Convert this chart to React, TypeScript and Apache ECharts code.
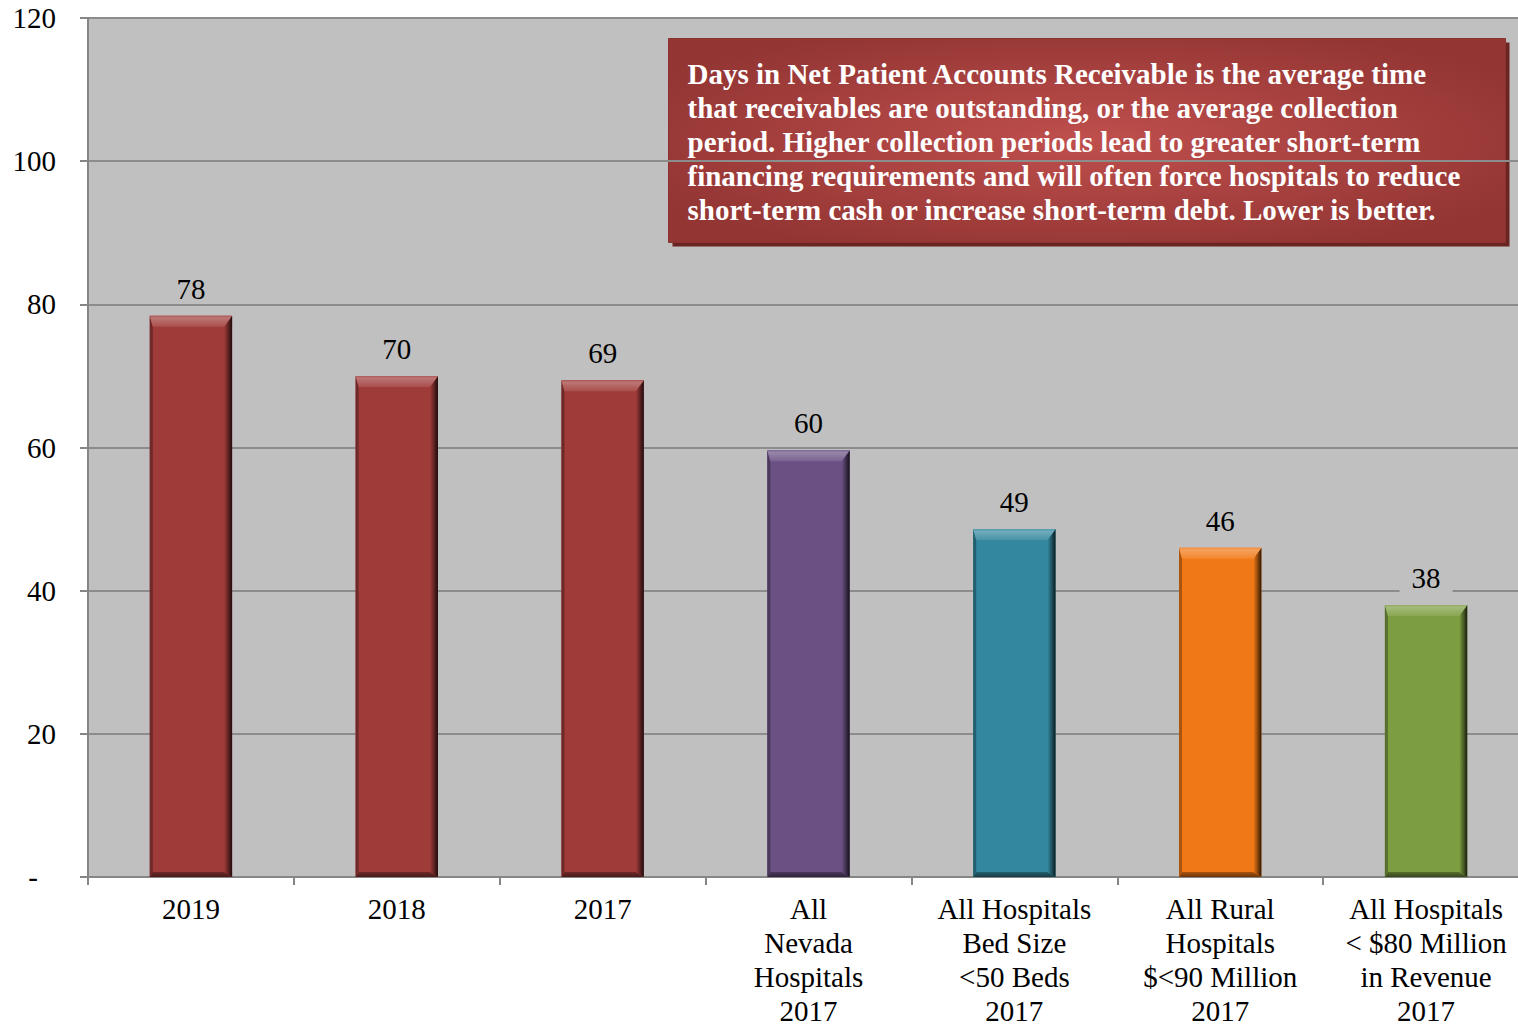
import React, { useEffect, useRef } from "react";
import * as echarts from "echarts";

const categories = [
  "2019",
  "2018",
  "2017",
  "All\nNevada\nHospitals\n2017",
  "All Hospitals\nBed Size\n<50 Beds\n2017",
  "All Rural\nHospitals\n$<90 Million\n2017",
  "All Hospitals\n< $80 Million\nin Revenue\n2017",
];
const values = [78.4, 70.0, 69.4, 59.6, 48.6, 46.0, 38.0];
const barColors = ["#9F3B39", "#9F3B39", "#9F3B39", "#6B5084", "#33879E", "#F17816", "#7C9D40"];
const yTicks = [0, 20, 40, 60, 80, 100, 120];
const noteLines = [
  "Days in Net Patient Accounts Receivable is the average time",
  "that receivables are outstanding, or the average collection",
  "period. Higher collection periods lead to greater short-term",
  "financing requirements and will often force hospitals to reduce",
  "short-term cash or increase short-term debt. Lower is better.",
];

const FONT = "Liberation Serif, Times New Roman, serif";

function mix(hex: string, target: string, t: number) {
  const p = (h: string) => [1, 3, 5].map((i) => parseInt(h.slice(i, i + 2), 16));
  const a = p(hex);
  const b = p(target);
  const c = a.map((v, i) => Math.round(v + (b[i] - v) * t));
  return "#" + c.map((v) => v.toString(16).padStart(2, "0")).join("");
}

export default function App() {
  const ref = useRef<HTMLDivElement>(null);
  useEffect(() => {
    document.body.style.margin = "0";
    const chart = echarts.init(ref.current!, undefined, { renderer: "svg" });
    const data = values.map((v, i) => [i, v]);
    const option: any = {
      animation: false,
      backgroundColor: "#FFFFFF",
      grid: {
        left: 88,
        width: 1441,
        top: 18,
        height: 859,
        containLabel: false,
        outerBoundsMode: "none",
        show: true,
        backgroundColor: "#C0C0C0",
        borderWidth: 0,
      },
      xAxis: {
        type: "category",
        data: categories,
        axisLine: { show: true, lineStyle: { color: "#868686", width: 2 } },
        axisTick: { show: true, interval: 0, length: 8, lineStyle: { color: "#868686", width: 2 } },
        axisLabel: {
          interval: 0,
          margin: 15,
          fontFamily: FONT,
          fontSize: 29,
          lineHeight: 34,
          color: "#000000",
        },
      },
      yAxis: {
        type: "value",
        min: yTicks[0],
        max: yTicks[yTicks.length - 1],
        interval: 20,
        axisLine: { show: true, lineStyle: { color: "#868686", width: 2 } },
        axisTick: { show: true, length: 8, lineStyle: { color: "#868686", width: 2 } },
        splitLine: { show: true, lineStyle: { color: "#8C8C8C", width: 2 } },
        axisLabel: {
          margin: 32,
          fontFamily: FONT,
          fontSize: 29,
          color: "#000000",
          formatter: (v: number) => (v === 0 ? "{z|-}" : String(v)),
          rich: { z: { fontFamily: FONT, fontSize: 29, color: "#000000", padding: [0, 18, 0, 0] } },
        },
      },
      series: [
        {
          type: "custom",
          data,
          encode: { x: 0, y: 1 },
          renderItem: (params: any, api: any) => {
            const idx = api.value(0);
            const v = api.value(1);
            const top = api.coord([idx, v]);
            const bot = api.coord([idx, 0]);
            const w = api.size([1, 0])[0] * 0.4;
            const x0 = top[0] - w / 2;
            const x1 = top[0] + w / 2;
            const y0 = top[1];
            const y1 = bot[1];
            const c = barColors[idx];
            const b = 11;
            const light = mix(c, "#FFFFFF", 0.3);
            const dark = mix(c, "#000000", 0.8);
            const midDark = mix(c, "#000000", 0.3);
            return {
              type: "group",
              children: [
                { type: "rect", shape: { x: x0, y: y0, width: x1 - x0, height: y1 - y0 }, style: { fill: c } },
                {
                  type: "polygon",
                  shape: { points: [[x0, y1], [x1, y1], [x1 - 8, y1 - 5], [x0 + 3, y1 - 5]] },
                  style: {
                    fill: new echarts.graphic.LinearGradient(0, 0, 0, 1, [
                      { offset: 0, color: midDark },
                      { offset: 1, color: mix(c, "#000000", 0.55) },
                    ]),
                  },
                },
                {
                  type: "polygon",
                  shape: { points: [[x0, y0], [x0 + 3, y0 + b], [x0 + 3, y1 - 5], [x0, y1]] },
                  style: { fill: midDark },
                },
                {
                  type: "polygon",
                  shape: { points: [[x1, y0], [x1, y1], [x1 - 8, y1 - 5], [x1 - 8, y0 + b]] },
                  style: {
                    fill: new echarts.graphic.LinearGradient(0, 0, 1, 0, [
                      { offset: 0, color: c },
                      { offset: 0.4, color: midDark },
                      { offset: 1, color: dark },
                    ]),
                  },
                },
                {
                  type: "polygon",
                  shape: { points: [[x0, y0], [x1, y0], [x1 - 8, y0 + b], [x0 + 3, y0 + b]] },
                  style: {
                    fill: new echarts.graphic.LinearGradient(0, 0, 0, 1, [
                      { offset: 0, color: mix(c, "#FFFFFF", 0.15) },
                      { offset: 0.2, color: light },
                      { offset: 1, color: mix(c, "#FFFFFF", 0.1) },
                    ]),
                  },
                },
                {
                  type: "text",
                  x: top[0],
                  y: y0 - 27,
                  style: {
                    text: String(Math.round(v)),
                    fontFamily: FONT,
                    fontSize: 29,
                    fill: "#000000",
                    align: "center",
                    verticalAlign: "middle",
                    backgroundColor: "#C0C0C0",
                    padding: [0, 12, 0, 12],
                  },
                },
              ],
            };
          },
        },
      ],
      graphic: [
        {
          type: "group",
          left: 668,
          top: 38,
          children: [
            { type: "rect", shape: { x: 4, y: 4, width: 837, height: 204 }, style: { fill: "#6A2523" } },
            {
              type: "rect",
              shape: { x: 0, y: 0, width: 837, height: 204 },
              style: {
                fill: new echarts.graphic.RadialGradient(0.5, 0.5, 0.6, [
                  { offset: 0, color: "#BF4F4D" },
                  { offset: 1, color: "#923533" },
                ]),
                stroke: "#8A3230",
                lineWidth: 1,
              },
            },
            {
              type: "text",
              x: 19,
              y: 18,
              style: {
                text: noteLines.join("\n"),
                fontFamily: FONT,
                fontWeight: "bold",
                fontSize: 29,
                lineHeight: 34,
                fill: "#FFFFFF",
                align: "left",
                verticalAlign: "top",
              },
            },
          ],
        },
      ],
    };
    chart.setOption(option);
    return () => chart.dispose();
  }, []);
  return <div ref={ref} style={{ position: "absolute", left: 0, top: 0, width: 1518, height: 1025 }} />;
}
